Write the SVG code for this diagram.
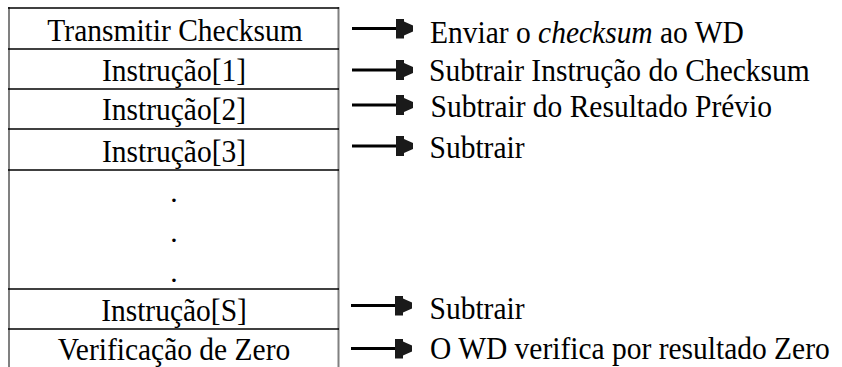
<svg xmlns="http://www.w3.org/2000/svg" width="842" height="367" viewBox="0 0 842 367">
<style>
  .t { font-family: 'Liberation Serif', 'Times New Roman', serif; font-size: 29.5px; fill: #000; }
  .cell { text-anchor: middle; }
  .hline { stroke: #000; stroke-width: 1.5; }
  .vline { stroke: #808080; stroke-width: 2; }
  .conn { stroke: #000; stroke-width: 3; fill: none; marker-end: url(#head); }
</style>
<defs>
  <marker id="head" markerUnits="userSpaceOnUse" markerWidth="20" markerHeight="22" refX="0" refY="10" orient="auto" viewBox="0 0 20 22">
    <path d="M0,0 H8 V3 L17,7 V13 L8,17 V20 H0 Z" fill="#1a1a1a"/>
  </marker>
</defs>
<rect width="842" height="367" fill="#fff"/>
<g id="table">
  <line class="vline" x1="9" y1="7" x2="9" y2="367"/>
  <line class="vline" x1="338.5" y1="7" x2="338.5" y2="367"/>
  <line class="hline" x1="8" y1="8" x2="339" y2="8"/>
  <line class="hline" x1="8" y1="49" x2="339" y2="49"/>
  <line class="hline" x1="8" y1="89" x2="339" y2="89"/>
  <line class="hline" x1="8" y1="129" x2="339" y2="129"/>
  <line class="hline" x1="8" y1="170" x2="339" y2="170"/>
  <line class="hline" x1="8" y1="289" x2="339" y2="289"/>
  <line class="hline" x1="8" y1="329" x2="339" y2="329"/>
</g>
<g id="row-transmitir"><text class="t cell" transform="translate(175,41) scale(1,1.07)">Transmitir Checksum</text></g>
<g id="row-instr1"><text class="t cell" transform="translate(174,81) scale(1,1.07)">Instrução[1]</text></g>
<g id="row-instr2"><text class="t cell" transform="translate(174,120) scale(1,1.07)">Instrução[2]</text></g>
<g id="row-instr3"><text class="t cell" transform="translate(174,162) scale(1,1.07)">Instrução[3]</text></g>
<g id="row-dots">
  <text class="t cell" x="174" y="202">.</text>
  <text class="t cell" x="174" y="242">.</text>
  <text class="t cell" x="174" y="282">.</text>
</g>
<g id="row-instrS"><text class="t cell" transform="translate(174,321) scale(1,1.07)">Instrução[S]</text></g>
<g id="row-verif"><text class="t cell" transform="translate(174,360) scale(1,1.07)">Verificação de Zero</text></g>
<g id="connectors">
  <line class="conn" x1="352" y1="28.5" x2="396" y2="28.5"/>
  <line class="conn" x1="352" y1="70" x2="396" y2="70"/>
  <line class="conn" x1="352" y1="105" x2="396" y2="105"/>
  <line class="conn" x1="352" y1="146" x2="396" y2="146"/>
  <line class="conn" x1="351" y1="305.5" x2="395" y2="305.5"/>
  <line class="conn" x1="351" y1="348.5" x2="395" y2="348.5"/>
</g>
<g id="label-enviar"><text class="t" transform="translate(430,43) scale(1,1.07)">Enviar o <tspan font-style="italic">checksum</tspan> ao WD</text></g>
<g id="label-sub1"><text class="t" transform="translate(429,81) scale(1,1.07)">Subtrair Instrução do Checksum</text></g>
<g id="label-sub2"><text class="t" transform="translate(430.5,117) scale(1,1.07)">Subtrair do Resultado Prévio</text></g>
<g id="label-sub3"><text class="t" transform="translate(429.5,158) scale(1,1.07)">Subtrair</text></g>
<g id="label-subS"><text class="t" transform="translate(429.5,319) scale(1,1.07)">Subtrair</text></g>
<g id="label-zero"><text class="t" transform="translate(430,359) scale(1,1.07)">O WD verifica por resultado Zero</text></g>
</svg>
